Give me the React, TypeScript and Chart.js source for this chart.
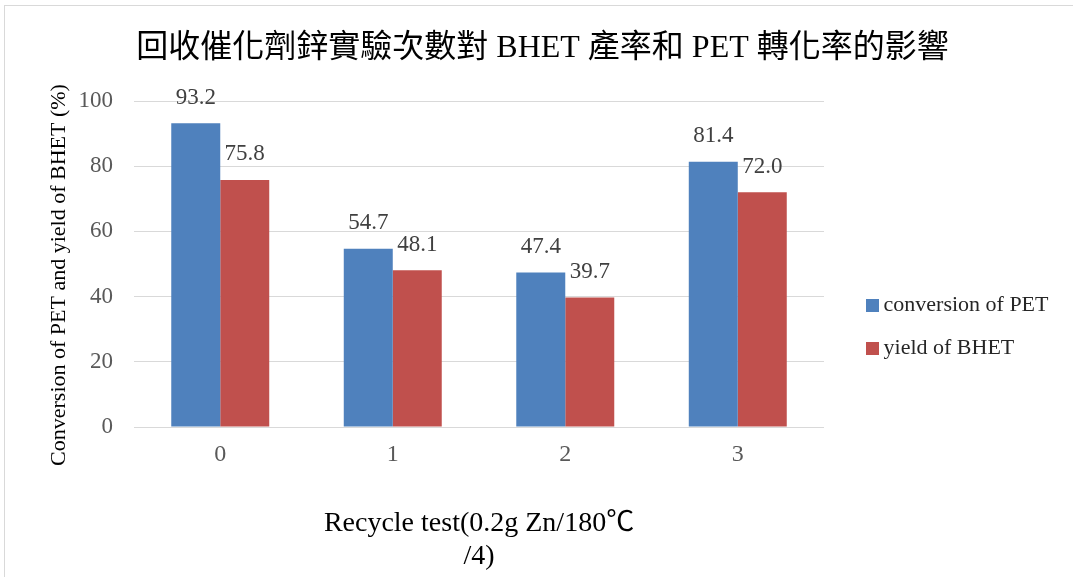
import { useEffect, useRef } from 'react';
import { Chart, registerables } from 'chart.js';

Chart.register(...registerables);

// ---- data ----
const categories = ['0', '1', '2', '3'];
const seriesNames = ['conversion of PET', 'yield of BHET'];
const conversionOfPET = [93.2, 54.7, 47.4, 81.4];
const yieldOfBHET = [75.8, 48.1, 39.7, 72.0];
const yTicks = [0, 20, 40, 60, 80, 100];
const chartTitle = '回收催化劑鋅實驗次數對 BHET 產率和 PET 轉化率的影響';
const xAxisTitle = ['Recycle test(0.2g Zn/180℃', '/4)'];
const yAxisTitle = 'Conversion of PET and yield of BHET (%)';

// ---- styles ----
const BLUE = '#4F81BD';
const RED = '#C0504D';
const GRID = '#D9D9D9';
const SERIF = '"Liberation Serif", "Times New Roman", "Noto Sans CJK TC", serif';

function makeSwatch(color: string) {
  const c = document.createElement('canvas');
  c.width = 13;
  c.height = 13;
  const g = c.getContext('2d');
  if (g) {
    g.fillStyle = color;
    g.fillRect(0, 0, 13, 13);
  }
  return c;
}

const framePlugin = {
  id: 'frame',
  beforeDraw(chart: any) {
    const { ctx } = chart;
    ctx.save();
    ctx.fillStyle = '#FFFFFF';
    ctx.fillRect(0, 0, chart.width, chart.height);
    ctx.strokeStyle = GRID;
    ctx.lineWidth = 1;
    ctx.strokeRect(4.5, 5.5, chart.width + 50, chart.height + 50);
    ctx.restore();
  },
};

const valueLabelPlugin = {
  id: 'valueLabels',
  afterDatasetsDraw(chart: any) {
    const { ctx } = chart;
    ctx.save();
    ctx.font = `23px ${SERIF}`;
    ctx.fillStyle = '#404040';
    ctx.textAlign = 'center';
    ctx.textBaseline = 'middle';
    chart.data.datasets.forEach((ds: any, di: number) => {
      const meta = chart.getDatasetMeta(di);
      meta.data.forEach((el: any, i: number) => {
        const v = ds.data[i] as number;
        ctx.fillText(v.toFixed(1), el.x, el.y - 25.5);
      });
    });
    ctx.restore();
  },
};

export default function App() {
  const ref = useRef<HTMLCanvasElement>(null);

  useEffect(() => {
    const canvas = ref.current;
    if (!canvas) return;
    const swatches = [makeSwatch(BLUE), makeSwatch(RED)];
    const defaultLabels = (Chart.defaults.plugins.legend.labels as any).generateLabels;

    const chart = new Chart(canvas, {
      type: 'bar',
      data: {
        labels: categories,
        datasets: [
          {
            label: seriesNames[0],
            data: conversionOfPET,
            backgroundColor: BLUE,
            borderWidth: 0,
            categoryPercentage: 0.568,
            barPercentage: 1.0,
          },
          {
            label: seriesNames[1],
            data: yieldOfBHET,
            backgroundColor: RED,
            borderWidth: 0,
            categoryPercentage: 0.568,
            barPercentage: 1.0,
          },
        ],
      },
      options: {
        responsive: false,
        animation: false,
        layout: { padding: { left: 26.5, right: 14.5, top: 0, bottom: 0 } },
        plugins: {
          tooltip: { enabled: false },
          title: {
            display: true,
            text: chartTitle,
            color: '#000000',
            font: { family: SERIF, size: 32, weight: 'normal', lineHeight: 1.2 },
            padding: { top: 29, bottom: 33.6 },
          },
          legend: {
            display: true,
            position: 'right',
            align: 'center',
            maxWidth: 400,
            title: { display: true, text: ' ', font: { size: 1, lineHeight: 76 }, padding: 0 },
            labels: {
              usePointStyle: true,
              pointStyleWidth: 0.01,
              boxHeight: 13,
              padding: 21,
              color: '#262626',
              font: { family: SERIF, size: 22 },
              generateLabels: (c: any) =>
                defaultLabels(c).map((item: any) => ({
                  ...item,
                  pointStyle: swatches[item.datasetIndex],
                  lineWidth: 0,
                })),
            },
          },
        },
        scales: {
          x: {
            grid: { display: false },
            border: { display: false },
            ticks: {
              color: '#595959',
              padding: 5.6,
              font: { family: SERIF, size: 24 },
            },
            title: {
              display: true,
              text: xAxisTitle,
              color: '#000000',
              font: { family: SERIF, size: 28, lineHeight: 1.2 },
              padding: { top: 0, bottom: 3.2 },
            },
            afterFit: (s: any) => {
              s.height = 150;
            },
          },
          y: {
            min: yTicks[0],
            max: yTicks[yTicks.length - 1],
            grid: { color: GRID, lineWidth: 1, drawTicks: false },
            border: { display: false },
            ticks: {
              stepSize: yTicks[1] - yTicks[0],
              color: '#595959',
              padding: 21,
              font: { family: SERIF, size: 23 },
            },
            title: {
              display: true,
              text: yAxisTitle + '\u2003',
              color: '#000000',
              font: { family: SERIF, size: 22, lineHeight: 1.2 },
              padding: { top: 19.3, bottom: 0 },
            },
            afterFit: (s: any) => {
              s.width = 107.5;
            },
          },
          spacer: {
            type: 'linear',
            position: 'right',
            display: true,
            grid: { display: false, drawTicks: false },
            border: { display: false },
            ticks: { display: false },
            afterFit: (s: any) => {
              s.width = 27.5;
            },
          },
        },
      },
      plugins: [framePlugin, valueLabelPlugin],
    } as any);

    return () => chart.destroy();
  }, []);

  return (
    <div
      style={{
        position: 'absolute',
        left: 0,
        top: 0,
        width: 1073,
        height: 577,
        overflow: 'hidden',
        background: '#ffffff',
      }}
    >
      <canvas ref={ref} width={1073} height={577} style={{ display: 'block' }} />
    </div>
  );
}
